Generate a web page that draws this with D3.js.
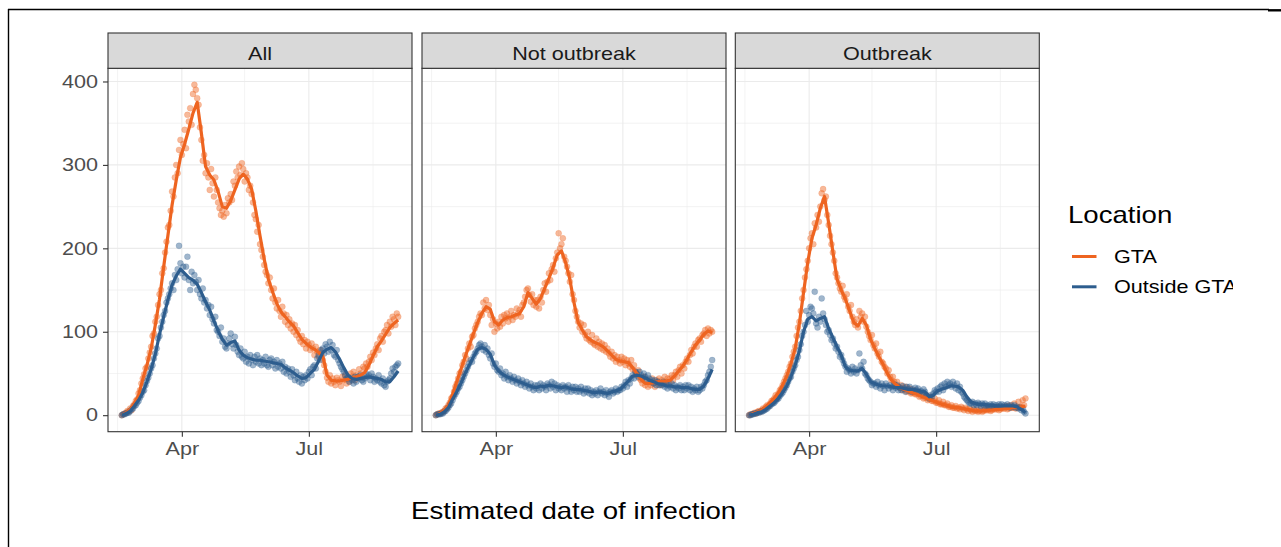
<!DOCTYPE html>
<html>
<head>
<meta charset="utf-8">
<script src="https://cdn.jsdelivr.net/npm/d3@7"></script>
<style>
  html, body { margin: 0; padding: 0; background: #fff; }
  svg { display: block; font-family: "Liberation Sans", Arial, Helvetica, sans-serif; }
</style>
</head>
<body>
<svg id="chart" width="1281" height="547"></svg>
<script>
// ---- data -------------------------------------------------------------
const panels = ["All", "Not outbreak", "Outbreak"];
const locations = ["GTA", "Outside GTA"];
const locationColors = ["#ee6420", "#2d5d8e"];
const firstDay = "2020-02-18";       // first daily observation
const smoothStep = 3;                // smoothed curves are sampled every 3rd day
const xTickDates = ["2020-04-01", "2020-07-01"];
const xTickLabels = ["Apr", "Jul"];
const xMinorDates = ["2020-02-15", "2020-05-16", "2020-08-16"];
const yTicks = [0, 100, 200, 300, 400];
const yMinor = [50, 150, 250, 350];

// daily case counts by estimated date of infection
const allGTA = [
  0,1,2, 3,5,4, 8,6,11, 13,17,19, 26,30,38, 44,49,56, 58,68,75, 82,95,98,
  112,118,132, 145,150,170, 176,195,208, 225,228,245, 268,262,285, 300,290,318,
  330,312,325, 342,320,360, 352,368,348, 385,396,390, 380,372,345, 330,305,312,
  290,302,285, 270,295,278, 262,285,270, 255,248,240, 245,238,252, 242,260,255,
  265,258,280, 275,292,285, 298,288,302, 295,280,290, 285,270,275, 265,255,240,
  235,220,228, 205,198,190, 180,172,168, 158,165,150, 140,152,135, 128,138,125,
  118,130,122, 112,120,108, 115,104,110, 100,108,96, 102,92,88, 95,85,90,
  80,88,84, 78,86,80, 72,82,76, 70,78,74, 66,60,52, 45,40,48,
  38,44,40, 36,45,42, 40,35,46, 42,48,38, 44,40,50, 46,52,42,
  48,45,55, 50,46,58, 56,62,58, 64,70,66, 75,72,80, 85,78,92,
  95,88,100, 102,108,98, 112,106,118, 115,108,122, 118
];
const allOutside = [
  0,1,1, 2,3,3, 5,7,8, 11,12,15, 17,21,24, 28,30,36, 41,45,50, 56,60,68,
  74,80,92, 95,105,112, 120,125,135, 140,145,152, 158,150,168, 162,175,203,
  182,170,178, 165,178,190, 162,150,172, 158,168,160, 150,162,145, 140,152,135,
  138,128,132, 120,130,115, 110,118,102, 100,95,105, 88,92,82, 80,86,92,
  98,85,80, 94,84,76, 72,80,70, 68,76,64, 70,62,72, 66,60,70,
  64,72,62, 68,60,66, 62,70,60, 58,66,68, 60,64,56, 66,58,62,
  56,64,52, 58,50,56, 52,46,55, 48,42,52, 44,40,48, 38,46,42,
  48,44,52, 55,48,58, 60,56,68, 72,66,78, 80,74,85, 82,76,88,
  78,84,72, 70,78,66, 62,58,55, 52,48,44, 46,40,44, 42,38,46,
  40,46,44, 48,42,40, 44,50,46, 48,42,50, 46,40,44, 42,48,40,
  38,44,36, 34,40,42, 44,50,56, 52,58,60, 62
];
const notOutbreakGTA = [
  0,1,2, 2,3,4, 5,8,9, 12,15,20, 22,28,34, 38,44,50, 52,60,64, 72,68,80,
  86,82,94, 96,104,108, 112,118,122, 120,135,128, 138,126,132, 120,108,115,
  100,110,104, 112,106,118, 110,120,116, 122,112,118, 125,114,120, 118,128,122,
  126,118,132, 135,142,150, 152,144,136, 145,132,138, 130,138,128, 142,135,150,
  158,148,160, 170,162,175, 180,172,188, 195,218,200, 205,212,190, 185,178,170,
  160,168,145, 138,125,118, 112,105,110, 100,108,96, 92,100,90, 88,96,86,
  84,92,82, 88,80,86, 78,84,76, 80,74,70, 76,68,72, 64,70,66,
  62,70,64, 68,60,66, 62,58,66, 55,60,52, 48,54,44, 42,38,46,
  36,42,34, 40,36,44, 38,34,42, 40,44,36, 42,38,46, 40,44,38,
  44,48,42, 48,52,46, 54,58,50, 60,56,64, 68,64,72, 78,74,82,
  86,82,90, 92,88,96, 98,102,95, 104,98,102, 100
];
const notOutbreakOutside = [
  0,1,1, 1,2,2, 4,5,7, 9,12,14, 18,22,25, 28,32,34, 38,42,46, 50,54,58,
  62,66,64, 70,74,76, 80,84,86, 82,78,84, 76,80,72, 68,74,62,
  58,62,54, 52,56,48, 50,44,52, 46,42,48, 44,40,46, 42,38,44,
  40,36,42, 38,34,40, 36,32,38, 34,30,36, 32,36,30, 38,32,36,
  34,30,38, 36,32,40, 34,38,30, 36,32,34, 30,36,32, 34,28,36,
  32,28,34, 30,34,28, 32,28,34, 30,26,32, 28,32,26, 30,24,28,
  26,30,24, 28,32,26, 28,24,30, 26,22,28, 30,26,28, 32,28,30,
  30,34,32, 36,40,34, 42,38,44, 48,44,52, 50,46,52, 48,44,50,
  46,42,48, 44,40,42, 38,42,36, 40,36,38, 36,40,34, 38,32,36,
  34,38,32, 36,30,34, 32,36,30, 34,30,36, 32,36,30, 34,28,32,
  30,34,28, 30,34,32, 36,40,42, 48,52,58, 66
];
const outbreakGTA = [
  0,1,1, 2,3,2, 4,5,4, 6,8,7, 10,12,11, 14,17,18, 20,24,22, 26,30,32,
  36,40,44, 48,52,58, 62,70,76, 82,95,105, 112,125,140, 150,165,175,
  185,200,212, 218,205,230, 225,240,232, 250,266,271, 258,262,240, 228,215,205,
  195,185,170, 165,158,152, 148,155,142, 138,145,130, 125,132,118, 112,108,115,
  105,125,118, 122,112,118, 106,100,95, 90,96,84, 80,86,74, 70,76,64,
  62,58,56, 50,54,46, 42,46,40, 36,40,34, 33,36,30, 31,34,28,
  29,32,26, 27,30,25, 25,28,22, 23,26,20, 21,24,18, 19,22,17,
  17,20,15, 15,18,13, 13,16,12, 12,14,10, 10,12,9, 9,11,8,
  9,7,10, 8,6,9, 7,5,8, 6,4,7, 5,6,4, 5,7,4,
  5,7,6, 6,8,5, 6,9,7, 7,10,6, 7,9,8, 8,11,7,
  8,12,9, 9,14,8, 9,16,10, 10,18,12, 20
];
const outbreakOutside = [
  0,0,1, 1,2,2, 3,3,4, 4,5,6, 7,8,10, 11,13,14, 15,17,19, 20,23,25,
  27,30,33, 36,40,44, 46,52,56, 60,66,70, 78,85,95, 100,108,125,
  112,120,130, 128,122,148, 110,105,118, 112,140,122, 115,108,100, 102,96,90,
  92,86,80, 82,76,70, 72,66,62, 58,52,56, 54,50,58, 52,56,50,
  54,74,60, 56,64,50, 48,44,42, 40,36,38, 38,34,40, 36,32,38,
  35,30,38, 35,32,36, 34,30,37, 33,36,30, 33,30,35, 32,28,34,
  31,34,28, 31,28,33, 30,32,27, 29,26,31, 28,24,22, 20,24,22,
  26,30,28, 32,28,34, 36,30,38, 34,40,36, 38,34,40, 36,32,38,
  30,34,28, 26,22,20, 18,16,14, 14,16,12, 14,12,15, 13,11,14,
  12,14,11, 12,10,13, 11,13,10, 12,10,13, 11,13,10, 12,10,13,
  11,9,12, 10,12,9, 10,8,9, 6,8,4, 2
];

// smoothed (rolling average) curves, one value every smoothStep days
const smoothAllGTA = [
  0,3,7,14,24,43,60,80,108,139, 178,215,252,282,309,325,343,362,375,338,
  298,288,282,268,250,248,257,270,283,289, 283,271,245,215,187,163,148,134,124,118,
  112,107,99,91,86,82,79,75,71,48, 42,41,41,42,43,45,46,48,51,60, 71,82,89,97,105,110,114
];
const smoothAllOutside = [
  0,2,5,11,18,27,40,55,73,97, 118,138,156,167,175,170,165,162,157,147,
  136,126,113,101,91,84,87,89,78,72, 69,67,66,66,65,64,63,62,61,57,
  54,51,47,44,45,50,55,65,75,79, 81,76,67,57,48,44,43,44,45,46, 45,44,43,40,40,46,53
];
const smoothNotOutbreakGTA = [
  0,2,6,12,25,40,55,70,84,98, 111,122,130,127,112,108,114,117,118,120,
  122,130,147,140,133,140,152,164,177,192, 197,183,163,135,111,102,94,90,87,85,
  82,77,72,67,65,64,63,57,50,43, 38,38,39,40,41,41,42,47,53,59, 67,76,84,90,97,101,99
];
const smoothNotOutbreakOutside = [
  0,1,4,9,19,28,38,50,60,70, 79,81,79,73,60,53,49,46,44,42,
  40,38,36,34,33,35,34,36,35,34, 33,34,32,31,31,30,29,28,27,28,
  27,26,28,29,31,36,41,47,48,47, 45,42,40,38,37,35,35,34,34,33, 33,32,31,31,35,44,55
];
const smoothOutbreakGTA = [
  0,2,4,6,10,15,20,27,36,47, 62,80,110,147,183,212,228,248,262,230,
  196,163,150,139,125,111,107,116,108,91, 80,70,61,50,42,37,33,31,29,27,
  25,23,21,19,17,15,13,12,10,9, 9,8,7,6,5,5,5,6,6,7, 7,8,8,9,9,10,11
];
const smoothOutbreakOutside = [
  0,1,3,4,7,11,15,20,27,35, 46,60,77,100,115,118,113,116,118,104,
  93,82,72,58,54,53,53,56,49,40, 38,36,35,35,34,33,33,32,31,31,
  30,29,28,22,24,29,31,33,35,35, 34,30,22,16,14,13,13,12,12,11, 11,11,11,11,10,7,3
];

const dailySeries = [[allGTA, allOutside], [notOutbreakGTA, notOutbreakOutside], [outbreakGTA, outbreakOutside]];
const smoothSeries = [[smoothAllGTA, smoothAllOutside], [smoothNotOutbreakGTA, smoothNotOutbreakOutside], [smoothOutbreakGTA, smoothOutbreakOutside]];

// ---- layout -----------------------------------------------------------
const W = 1281, H = 547;
const panelTop = 68.3, panelH = 363.4;
const panelLefts = [108, 422, 735.3];
const panelW = 304;
const stripH = 35.3;
const textWiden = 1.2;   // horizontal widening of all type
const ink = "#333333";

const parse = d3.utcParse("%Y-%m-%d");
const start = parse(firstDay);
const nDays = allGTA.length;
const end = d3.utcDay.offset(start, nDays - 1);
const spanMs = end - start;
const x = d3.scaleUtc()
  .domain([new Date(+start - 0.05 * spanMs), new Date(+end + 0.05 * spanMs)])
  .range([0, panelW]);

const yMax = d3.max(dailySeries.flat(2));
const y = d3.scaleLinear()
  .domain([-0.05 * yMax, yMax * 1.05])
  .range([panelH, 0]);

const svg = d3.select("#chart");
svg.append("rect").attr("width", W).attr("height", H).attr("fill", "#fff");

function wideText(sel, px, py, str, size, fill, anchor) {
  return sel.append("text")
    .attr("transform", `translate(${px},${py}) scale(${textWiden},1)`)
    .attr("text-anchor", anchor || "start")
    .attr("font-size", size)
    .attr("fill", fill)
    .text(str);
}

const lineGen = d3.line().x(d => x(d.date)).y(d => y(d.value));

panels.forEach((name, p) => {
  const g = svg.append("g").attr("transform", `translate(${panelLefts[p]},${panelTop})`);

  g.append("rect").attr("width", panelW).attr("height", panelH).attr("fill", "#fff");

  // minor grid
  g.selectAll(".ymin").data(yMinor).join("line")
    .attr("x1", 0).attr("x2", panelW)
    .attr("y1", d => y(d)).attr("y2", d => y(d))
    .attr("stroke", "#ebebeb").attr("stroke-width", 0.6);
  g.selectAll(".xmin").data(xMinorDates.map(parse)).join("line")
    .attr("x1", d => x(d)).attr("x2", d => x(d))
    .attr("y1", 0).attr("y2", panelH)
    .attr("stroke", "#ebebeb").attr("stroke-width", 0.6);
  // major grid
  g.selectAll(".ymaj").data(yTicks).join("line")
    .attr("x1", 0).attr("x2", panelW)
    .attr("y1", d => y(d)).attr("y2", d => y(d))
    .attr("stroke", "#ebebeb").attr("stroke-width", 1.1);
  g.selectAll(".xmaj").data(xTickDates.map(parse)).join("line")
    .attr("x1", d => x(d)).attr("x2", d => x(d))
    .attr("y1", 0).attr("y2", panelH)
    .attr("stroke", "#ebebeb").attr("stroke-width", 1.1);

  // daily points
  locations.forEach((loc, k) => {
    const pts = dailySeries[p][k].map((v, i) => ({ date: d3.utcDay.offset(start, i), value: v }));
    g.append("g").selectAll("circle").data(pts).join("circle")
      .attr("cx", d => x(d.date)).attr("cy", d => y(d.value))
      .attr("r", 3)
      .attr("fill", locationColors[k])
      .attr("fill-opacity", 0.45)
      .attr("stroke", locationColors[k])
      .attr("stroke-opacity", 0.3)
      .attr("stroke-width", 0.6);
  });

  // smoothed curves
  locations.forEach((loc, k) => {
    const pts = smoothSeries[p][k].map((v, i) => ({ date: d3.utcDay.offset(start, i * smoothStep), value: v }));
    g.append("path").datum(pts)
      .attr("d", lineGen)
      .attr("fill", "none")
      .attr("stroke", locationColors[k])
      .attr("stroke-width", 3.2)
      .attr("stroke-linejoin", "round")
      .attr("stroke-linecap", "butt");
  });

  // panel border
  g.append("rect").attr("width", panelW).attr("height", panelH)
    .attr("fill", "none").attr("stroke", ink).attr("stroke-width", 1.1);

  // strip
  g.append("rect").attr("y", -stripH).attr("width", panelW).attr("height", stripH)
    .attr("fill", "#d9d9d9").attr("stroke", ink).attr("stroke-width", 1.1);
  wideText(g, panelW / 2, -8.8, name, 18, "#1a1a1a", "middle");

  // x axis
  const xAxis = d3.axisBottom(x)
    .tickValues(xTickDates.map(parse))
    .tickFormat((d, i) => xTickLabels[i])
    .tickSize(5).tickPadding(6);
  const ax = g.append("g").attr("transform", `translate(0,${panelH})`).call(xAxis);
  ax.select(".domain").remove();
  ax.selectAll(".tick line").attr("stroke", ink).attr("stroke-width", 1.1);
  ax.selectAll(".tick text")
    .attr("font-size", 18).attr("fill", "#4d4d4d")
    .attr("transform", `scale(${textWiden},1)`);

  // y axis on the first panel only
  if (p === 0) {
    const yAxis = d3.axisLeft(y).tickValues(yTicks).tickSize(5).tickPadding(5);
    const ay = g.append("g").call(yAxis);
    ay.select(".domain").remove();
    ay.selectAll(".tick line").attr("stroke", ink).attr("stroke-width", 1.1);
    ay.selectAll(".tick text")
      .attr("font-size", 18).attr("fill", "#4d4d4d")
      .attr("x", -10 / textWiden)
      .attr("transform", `scale(${textWiden},1)`);
  }
});

// axis ticks inherit the page font
svg.selectAll(".tick").attr("font-family", null);
svg.selectAll("g[font-family]").attr("font-family", null);

// axis title
wideText(svg, (panelLefts[0] + panelLefts[2] + panelW) / 2, 518.5, "Estimated date of infection", 23, "#000", "middle");

// legend (the right edge of the figure cuts it off)
svg.append("clipPath").attr("id", "legendClip")
  .append("rect").attr("x", 1045).attr("y", 150).attr("width", 188).attr("height", 200);
const lg = svg.append("g").attr("clip-path", "url(#legendClip)");
wideText(lg, 1068, 223, "Location", 23, "#000");
locations.forEach((loc, k) => {
  const ky = 256.5 + k * 30.3;
  lg.append("line")
    .attr("x1", 1072).attr("x2", 1096.5)
    .attr("y1", ky).attr("y2", ky)
    .attr("stroke", locationColors[k]).attr("stroke-width", 3);
  wideText(lg, 1114, ky + 6.6, loc, 18, "#000");
});

// outer frame
svg.append("line").attr("x1", 8).attr("x2", 1269).attr("y1", 9.5).attr("y2", 9.5)
  .attr("stroke", "#000").attr("stroke-width", 1.4);
svg.append("line").attr("x1", 1268).attr("x2", 1281).attr("y1", 10.3).attr("y2", 10.3)
  .attr("stroke", "#000").attr("stroke-width", 2.4);
svg.append("line").attr("x1", 8.5).attr("x2", 8.5).attr("y1", 9).attr("y2", H)
  .attr("stroke", "#000").attr("stroke-width", 1.4);
</script>
</body>
</html>
